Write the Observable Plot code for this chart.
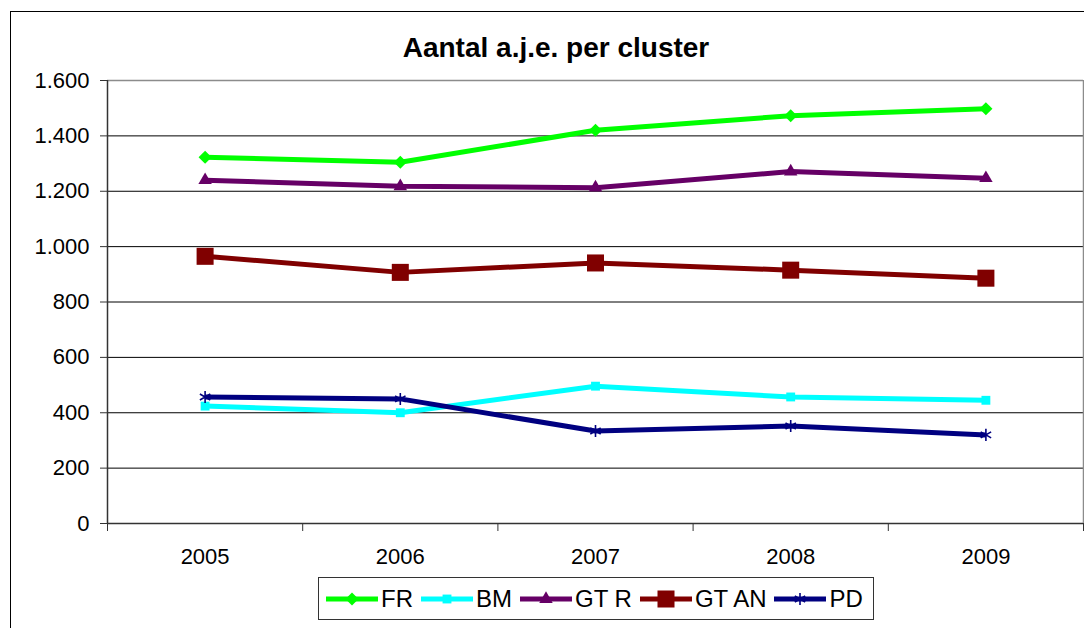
<!DOCTYPE html>
<html>
<head>
<meta charset="utf-8">
<script src="https://cdn.jsdelivr.net/npm/d3@7"></script>
<script src="https://cdn.jsdelivr.net/npm/@observablehq/plot@0.6"></script>
<style>
html,body{margin:0;padding:0;background:#fff;overflow:hidden;width:1084px;height:628px;}
#wrap{position:relative;width:1084px;height:628px;font-family:"Liberation Sans",Arial,sans-serif;color:#000;}
#frame{position:absolute;left:10px;top:11px;width:1200px;height:800px;border:1.5px solid #000;box-sizing:border-box;pointer-events:none;}
#chart{position:absolute;left:0;top:0;}
#title{position:absolute;left:0;width:1112px;top:34px;text-align:center;font-weight:bold;font-size:28px;line-height:1;}
#legend{position:absolute;left:318px;top:577px;width:556px;height:43px;border:1px solid #333;box-sizing:border-box;background:#fff;display:flex;align-items:center;padding-left:7px;font-size:24px;}
#legend .item{display:flex;align-items:center;margin-right:8px;}
#legend svg{display:block;margin-right:3px;}
</style>
</head>
<body>
<div id="wrap">
  <div id="chart"></div>
  <div id="frame"></div>
  <div id="title"></div>
  <div id="legend"></div>
</div>
<script>
// ---- data ----
const titleText = "Aantal a.j.e. per cluster";
const years = [2005, 2006, 2007, 2008, 2009];
const seriesNames = ["FR", "BM", "GT R", "GT AN", "PD"];
const frValues   = [1323, 1305, 1420, 1473, 1498];
const bmValues   = [424, 400, 496, 457, 445];
const gtRValues  = [1240, 1218, 1213, 1271, 1247];
const gtANValues = [965, 907, 941, 915, 886];
const pdValues   = [457, 450, 334, 352, 320];
const yTicks = [0, 200, 400, 600, 800, 1000, 1200, 1400, 1600];
const yTickLabels = ["0", "200", "400", "600", "800", "1.000", "1.200", "1.400", "1.600"];

// ---- styles ----
const colors = ["#00ff00", "#00ffff", "#660066", "#800000", "#000080"];
const markers = [
  {symbol: "square", r: 5.2, rotate: 45, fill: colors[0]},
  {symbol: "square", r: 5.0, rotate: 0, fill: colors[1]},
  {symbol: "triangle", r: 5.0, rotate: 0, fill: colors[2]},
  {symbol: "square", r: 9.6, rotate: 0, fill: colors[3]},
  {symbol: "asterisk", r: 5.7, rotate: 0, stroke: colors[4]}
];
const allValues = [frValues, bmValues, gtRValues, gtANValues, pdValues];

const table = [];
seriesNames.forEach((s, k) => years.forEach((y, i) => table.push({series: s, year: y, value: allValues[k][i]})));

const boundaries = [years[0] - 0.5, ...years.map(y => y + 0.5)];
const xDomain = [boundaries[0], boundaries[boundaries.length - 1]];

const marks = [
  Plot.gridY(yTicks.filter(d => d > 0 && d < 1600), {stroke: "#000", strokeOpacity: 1, strokeWidth: 1}),
  Plot.ruleY([yTicks[yTicks.length - 1]], {stroke: "#8c8c8c", strokeWidth: 1.5}),
  Plot.ruleX([xDomain[1]], {stroke: "#8c8c8c", strokeWidth: 1.5}),
  Plot.ruleX([xDomain[0]], {stroke: "#333", strokeWidth: 1.5}),
  Plot.axisY(yTicks, {tickSize: 7, tickPadding: 11, stroke: "#333", fontSize: 22, fill: "#000", label: null,
    tickFormat: d => yTickLabels[yTicks.indexOf(d)]}),
  Plot.axisX(boundaries, {tickSize: 8, stroke: "#333", label: null, tickFormat: () => ""}),
  Plot.axisX(years, {tickSize: 0, tickPadding: 25, fontSize: 22, fill: "#000", label: null, tickFormat: d => String(d)}),
  Plot.ruleY([0], {stroke: "#333", strokeWidth: 1.5})
];
seriesNames.forEach((s, k) => {
  const sub = table.filter(d => d.series === s);
  marks.push(Plot.line(sub, {x: "year", y: "value", stroke: colors[k], strokeWidth: 5, strokeLinejoin: "round", strokeLinecap: "butt"}));
  const m = markers[k];
  const opts = {x: "year", y: "value", symbol: m.symbol, r: m.r, rotate: m.rotate};
  if (m.fill) opts.fill = m.fill; else { opts.stroke = m.stroke; opts.strokeWidth = 1.6; opts.fill = "none"; }
  marks.push(Plot.dot(sub, opts));
});

const chart = Plot.plot({
  width: 1084,
  height: 628,
  marginLeft: 107,
  marginRight: 1,
  marginTop: 80,
  marginBottom: 105,
  style: {fontFamily: "'Liberation Sans', Arial, sans-serif", background: "transparent", overflow: "visible"},
  x: {type: "linear", domain: xDomain, axis: null, label: null},
  y: {domain: [yTicks[0], yTicks[yTicks.length - 1]], axis: null, label: null},
  marks
});
document.getElementById("chart").appendChild(chart);
document.getElementById("title").textContent = titleText;

// ---- legend ----
const legend = document.getElementById("legend");
const symMap = {square: d3.symbolSquare, triangle: d3.symbolTriangle, asterisk: d3.symbolAsterisk};
seriesNames.forEach((s, k) => {
  const m = markers[k];
  const item = document.createElement("div");
  item.className = "item";
  const ns = "http://www.w3.org/2000/svg";
  const svg = document.createElementNS(ns, "svg");
  svg.setAttribute("width", 52); svg.setAttribute("height", 22);
  const line = document.createElementNS(ns, "line");
  line.setAttribute("x1", 0); line.setAttribute("x2", 52);
  line.setAttribute("y1", 11); line.setAttribute("y2", 11);
  line.setAttribute("stroke", colors[k]); line.setAttribute("stroke-width", 5);
  line.setAttribute("stroke-linecap", "round");
  svg.appendChild(line);
  const p = document.createElementNS(ns, "path");
  p.setAttribute("d", d3.symbol(symMap[m.symbol], m.r * m.r * Math.PI)());
  p.setAttribute("transform", `translate(26,11) rotate(${m.rotate})`);
  if (m.fill) p.setAttribute("fill", m.fill);
  else { p.setAttribute("fill", "none"); p.setAttribute("stroke", m.stroke); p.setAttribute("stroke-width", 1.6); }
  svg.appendChild(p);
  item.appendChild(svg);
  const t = document.createElement("span");
  t.textContent = s;
  item.appendChild(t);
  legend.appendChild(item);
});
</script>
</body>
</html>
